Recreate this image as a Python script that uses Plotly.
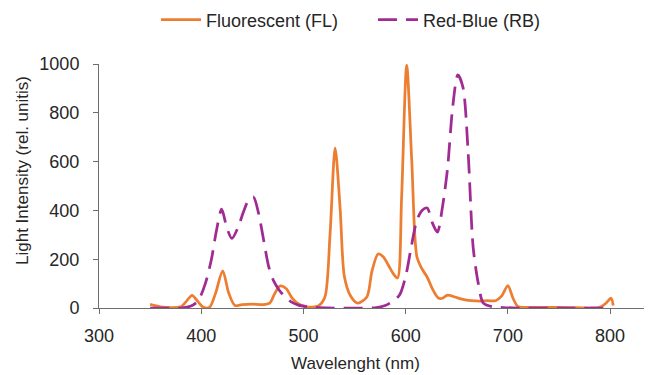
import plotly.graph_objects as go

fl_x = [350, 360, 370, 380, 385, 391, 397, 402, 408, 414, 421, 427, 433, 440, 450, 460, 467, 472, 477, 483,
        489, 494, 502, 509, 515, 521, 526, 531, 536, 540, 546, 553, 562, 567, 573, 578, 583, 588, 592, 596,
        601, 606, 611, 616, 621, 626, 632, 636, 641, 648, 656, 664, 672, 680, 688, 694, 700, 705, 710, 720,
        740, 760, 780, 790, 796, 801, 803]
fl_y = [15, 5, 2, 5, 25, 52, 25, 3, 2, 60, 152, 60, 10, 14, 16, 14, 20, 60, 90, 80,
        40, 20, 6, 4, 10, 45, 300, 655, 400, 130, 50, 20, 45, 150, 221, 210, 176, 140, 123, 450,
        995, 600, 210, 160, 127, 80, 41, 40, 53, 45, 35, 30, 28, 30, 30, 50, 92, 40, 5, 3,
        3, 2, 0, 3, 20, 40, 10]

rb_x = [350, 360, 370, 380, 390, 397, 404, 410, 415, 420, 425, 430, 436, 441, 446, 451, 456, 461, 466, 471,
        476, 481, 488, 495, 505, 515, 530, 550, 570, 580, 588, 594, 600, 605, 611, 616, 621, 626, 631, 636,
        641, 646, 651, 656, 661, 666, 671, 676, 685, 695, 710, 750, 800]
rb_y = [0, 0, 0, 0, 8, 30, 100, 200, 320, 405, 330, 285, 330, 390, 440, 455, 390, 280, 170, 110,
        75, 50, 25, 12, 5, 2, 0, 0, 1, 10, 30, 53, 130, 240, 360, 400, 410, 350, 311, 414,
        574, 824, 955, 905, 647, 250, 102, 20, 5, 2, 0, 0, 0]

x_ticks = [300, 400, 500, 600, 700, 800]
y_ticks = [0, 200, 400, 600, 800, 1000]

W, H = 652, 375
# the page body adds an 8px offset; compensate so the plot lands where intended
OFF = 8

fig = go.Figure()
fig.add_trace(go.Scatter(x=fl_x, y=fl_y, mode="lines", name="Fluorescent (FL)", legend="legend",
                         line=dict(color="#ED7D31", width=2.75, shape="spline", smoothing=0.8)))
fig.add_trace(go.Scatter(x=rb_x, y=rb_y, mode="lines", name="Red-Blue (RB)", legend="legend2",
                         line=dict(color="#A02B93", width=2.75, shape="spline", smoothing=0.8,
                                   dash="19px,9px")))

font_family = "Liberation Sans, Arial, sans-serif"
txt = "#262626"
leg_common = dict(orientation="h", xref="container", yref="container",
                  yanchor="middle", xanchor="left", itemwidth=40,
                  font=dict(size=18, color=txt), bgcolor="rgba(0,0,0,0)")
fig.update_layout(
    width=W, height=H,
    margin=dict(l=99 - OFF, r=1 + OFF, t=64 - OFF, b=67 + OFF),
    paper_bgcolor="white", plot_bgcolor="white",
    font=dict(family=font_family, size=17, color=txt),
    showlegend=True,
    legend=dict(leg_common, x=(206 - OFF - 50) / W, y=1 - (20 - OFF) / H),
    legend2=dict(leg_common, x=(423 - OFF - 50) / W, y=1 - (20 - OFF) / H),
    xaxis=dict(range=[300, 840], tickvals=x_ticks, ticktext=[str(v) for v in x_ticks],
               showgrid=False, zeroline=False, showline=True, linecolor="#6e6e6e", linewidth=1,
               ticks="outside", ticklen=5, tickcolor="#6e6e6e", automargin=False,
               ticklabelstandoff=6, tickfont=dict(size=18, color=txt)),
    yaxis=dict(range=[0, 1000], tickvals=y_ticks, ticktext=[str(v) for v in y_ticks],
               showgrid=False, zeroline=False, showline=True, linecolor="#6e6e6e", linewidth=1,
               ticks="outside", ticklen=5, tickcolor="#6e6e6e", automargin=False,
               ticklabelstandoff=10, tickfont=dict(size=18, color=txt)),
    annotations=[
        dict(text="Wavelenght (nm)", xref="paper", yref="paper",
             x=(355 - 99) / (651 - 99), y=-(363 - 308) / (308 - 64),
             xanchor="center", yanchor="middle", showarrow=False,
             font=dict(size=17, color=txt)),
        dict(text="Light Intensity (rel. unitis)", xref="paper", yref="paper",
             x=-(99 - 22) / (651 - 99), y=(308 - 171) / (308 - 64),
             xanchor="center", yanchor="middle", showarrow=False, textangle=-90,
             font=dict(size=17, color=txt)),
    ],
)

fig.write_html("out.html")
